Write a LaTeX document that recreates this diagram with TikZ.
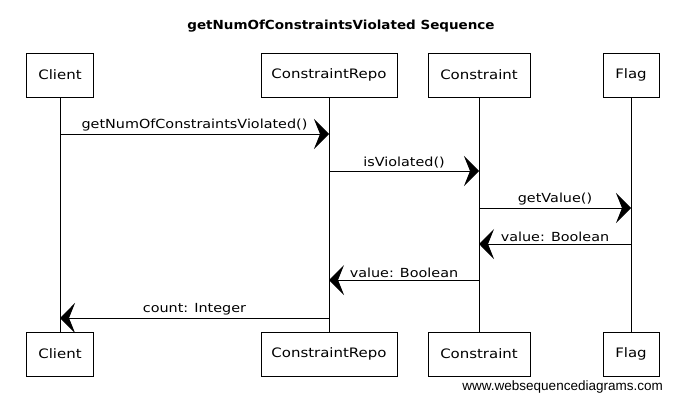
\documentclass[tikz,border=0pt]{standalone}
\usepackage{fontspec}
\setmainfont{DejaVu Sans}
\newfontfamily\handfont[FakeStretch=1.15]{DejaVu Sans}
\newfontfamily\titlefont[FakeStretch=1.08]{DejaVu Sans}
\newfontfamily\wmfont{Liberation Sans}
\usetikzlibrary{arrows.meta}
\tikzset{
  x=1pt, y=-1pt,
  actor/.style={draw, line width=0.9pt, minimum height=44pt, inner sep=0pt,
    font=\handfont\fontsize{13}{15}\selectfont},
  lifeline/.style={line width=0.7pt},
  msg/.style={line width=0.9pt, -{Stealth[length=15pt, width=30pt, inset=6pt]}},
  msglabel/.style={font=\handfont\fontsize{12.5}{14}\selectfont, inner sep=2pt},
}
\begin{document}
\begin{tikzpicture}
\useasboundingbox (0,0) rectangle (684,405);
\node[font=\titlefont\bfseries\fontsize{12.5}{14}\selectfont] (title) at (341,26) {getNumOfConstraintsViolated Sequence};
% top actors
\node[actor, minimum width=67pt] (cT) at (60,75) {Client};
\node[actor, minimum width=136pt] (rT) at (329,75) {ConstraintRepo};
\node[actor, minimum width=102pt] (kT) at (479,75) {Constraint};
\node[actor, minimum width=56pt] (fT) at (631,75) {Flag};
% bottom actors
\node[actor, minimum width=67pt] (cB) at (60,354) {Client};
\node[actor, minimum width=136pt] (rB) at (329,354) {ConstraintRepo};
\node[actor, minimum width=102pt] (kB) at (479,354) {Constraint};
\node[actor, minimum width=56pt] (fB) at (631,354) {Flag};
% lifelines
\draw[lifeline] (cT) -- (cB);
\draw[lifeline] (rT) -- (rB);
\draw[lifeline] (kT) -- (kB);
\draw[lifeline] (fT) -- (fB);
% message points
\coordinate (c1) at (cT.south |- 0,134);
\coordinate (r1) at (rT.south |- 0,134);
\coordinate (r2) at (rT.south |- 0,171);
\coordinate (k2) at (kT.south |- 0,171);
\coordinate (k3) at (kT.south |- 0,208);
\coordinate (f3) at (fT.south |- 0,208);
\coordinate (f4) at (fT.south |- 0,244);
\coordinate (k4) at (kT.south |- 0,244);
\coordinate (k5) at (kT.south |- 0,280);
\coordinate (r5) at (rT.south |- 0,280);
\coordinate (r6) at (rT.south |- 0,318);
\coordinate (c6) at (cT.south |- 0,318);
\draw[msg] (c1) -- node[msglabel, above] (l1) {getNumOfConstraintsViolated()} (r1);
\draw[msg] (r2) -- node[msglabel, above] (l2) {isViolated()} (k2);
\draw[msg] (k3) -- node[msglabel, above] (l3) {getValue()} (f3);
\draw[msg] (f4) -- node[msglabel, above] (l4) {value: Boolean} (k4);
\draw[msg] (k5) -- node[msglabel, above] (l5) {value: Boolean} (r5);
\draw[msg] (r6) -- node[msglabel, above] (l6) {count: Integer} (c6);
\node[font=\wmfont\fontsize{13.5}{15}\selectfont, anchor=base east, inner sep=0pt] (wm) at (663,390) {www.websequencediagrams.com};
\end{tikzpicture}
\end{document}
